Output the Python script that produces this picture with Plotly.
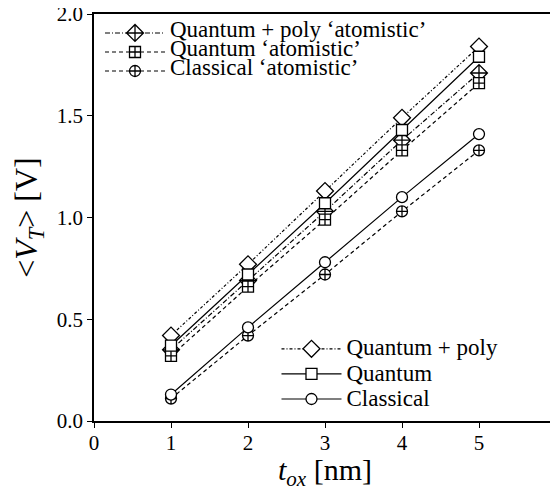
import plotly.graph_objects as go

t_ox = [1, 2, 3, 4, 5]
quantum_poly = [0.42, 0.77, 1.13, 1.49, 1.84]
quantum = [0.37, 0.72, 1.07, 1.43, 1.79]
classical = [0.13, 0.46, 0.78, 1.10, 1.41]
quantum_poly_atom = [0.35, 0.69, 1.03, 1.38, 1.71]
quantum_atom = [0.32, 0.66, 0.99, 1.33, 1.66]
classical_atom = [0.11, 0.42, 0.72, 1.03, 1.33]

names_atom = ["Quantum + poly ‘atomistic’", "Quantum ‘atomistic’", "Classical ‘atomistic’"]
names_cont = ["Quantum + poly", "Quantum", "Classical"]

x_ticks = [0, 1, 2, 3, 4, 5, 6]
y_ticks = [0.0, 0.5, 1.0, 1.5, 2.0]

FONT = "Liberation Serif"
LEG_TXT = 23
fig = go.Figure()

def add(y, name, symbol, size, dash, legend):
    fig.add_trace(go.Scatter(
        x=t_ox, y=y, mode="lines+markers", legend=legend,
        name=f"<span style='font-size:{LEG_TXT}px'>{name}</span>",
        line=dict(color="black", width=1.2, dash=dash),
        marker=dict(symbol=symbol, size=size, color="white",
                    line=dict(color="black", width=1.3)),
    ))

add(quantum_poly_atom, names_atom[0], "diamond-cross", 13, "5px,2px,1px,2px", "legend")
add(quantum_atom, names_atom[1], "square-cross", 11, "4px,3px", "legend")
add(classical_atom, names_atom[2], "circle-cross", 11, "4px,3px", "legend")
add(quantum_poly, names_cont[0], "diamond", 13, "3px,2px,1px,2px", "legend2")
add(quantum, names_cont[1], "square", 11, "solid", "legend2")
add(classical, names_cont[2], "circle", 11, "solid", "legend2")

# page body has an 8px default margin, so the figure is 8px smaller
fig.update_layout(
    width=550, height=483,
    margin=dict(l=86, r=2, t=6, b=70),
    paper_bgcolor="white", plot_bgcolor="white",
    font=dict(family=FONT, color="black", size=21),
    legend=dict(x=0.013, y=0.989, xanchor="left", yanchor="top",
                font=dict(size=10.5, family=FONT), bgcolor="rgba(0,0,0,0)",
                itemwidth=60, tracegroupgap=0),
    legend2=dict(x=0.395, y=0.2205, xanchor="left", yanchor="top",
                 font=dict(size=17, family=FONT), bgcolor="rgba(0,0,0,0)",
                 itemwidth=60),
    xaxis=dict(range=[0, 6], tickvals=x_ticks, ticktext=[str(v) for v in x_ticks],
               ticks="outside", ticklen=5, tickwidth=1.2, tickcolor="black",
               showline=True, linecolor="black", linewidth=1.5, mirror=True,
               showgrid=False, zeroline=False, ticklabelstandoff=-3, automargin=False,
               ticklabeloverflow="allow",
               tickfont=dict(size=21, family=FONT),
               title=dict(text="<i>t</i><sub><i>ox</i></sub> [nm]", font=dict(size=30, family=FONT), standoff=0)),
    yaxis=dict(range=[0, 2.0], tickvals=y_ticks, ticktext=[f"{v:.1f}" for v in y_ticks],
               ticks="outside", ticklen=5, tickwidth=1.2, tickcolor="black",
               showline=True, linecolor="black", linewidth=1.5, mirror=True,
               showgrid=False, zeroline=False, automargin=False,
               ticklabeloverflow="allow",
               tickfont=dict(size=21, family=FONT),
               title=dict(text="&lt;<i>V</i><sub><i>T</i></sub>&gt; [V]", font=dict(size=32, family=FONT), standoff=12)),
)

fig.write_html("out.html")
